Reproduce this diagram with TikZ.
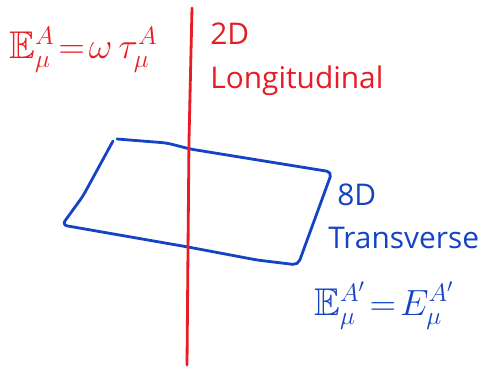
\documentclass[tikz,border=0pt]{standalone}
\usepackage{amssymb}
\usepackage{fontspec}
\setmainfont{Open Sans}
\definecolor{penred}{RGB}{232,28,36}
\definecolor{penblue}{RGB}{20,68,196}
\begin{document}
\begin{tikzpicture}[x=0.02cm, y=-0.02cm,
    ink/.style={line width=1.6pt, line cap=round, line join=round},
    word/.style={anchor=base west, inner sep=0pt, font=\fontsize{17}{20}\selectfont},
    formula/.style={anchor=base west, inner sep=0pt, font=\fontsize{22}{26}\selectfont}]
    \useasboundingbox (0,0) rectangle (490,372);

    % Ebene (8D transversal)
    \draw[ink, penblue, rounded corners=3pt] (117,139) -- (167,143) -- (190,149) -- (332,172)
        -- (298,265) -- (257,260) -- (188,247) -- (62,225) -- (83,196) -- (113,141);

    % Linie (2D longitudinal)
    \draw[ink, penred] (192,8) -- (189,140) -- (188,250) -- (187,365);

    % Beschriftungen links / oben
    \node[formula, text=penred] (vielL) at (9,58) {$\mathbb{E}^A_\mu\!=\!\omega\,\tau^A_\mu$};
    \node[word, text=penred] (dimL) at (210,44) {2D};
    \node[word, text=penred] (nameL) at (210,88) {Longitudinal};

    % Beschriftungen rechts / unten
    \node[word, text=penblue] (dimT) at (337,205) {8D};
    \node[word, text=penblue] (nameT) at (328,248) {Transverse};
    \node[formula, text=penblue] (vielT) at (314,315) {$\mathbb{E}^{A'}_\mu\!=\!E^{A'}_\mu$};
\end{tikzpicture}
\end{document}
